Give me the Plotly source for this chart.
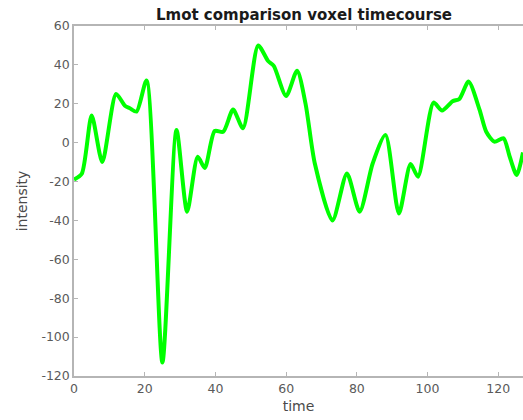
import plotly.graph_objects as go

# Voxel timecourse samples (time in volumes, intensity in signal units)
time_pts = [0, 2.2, 5, 8, 11.9, 14.4, 15.8, 17.7, 20.5, 25, 29, 32, 35, 37,
            39.8, 42.2, 45, 47.8, 52.1, 54.9, 56.5, 60, 63.1, 65.5, 68.1,
            73.1, 77.2, 80.8, 84.5, 88.1, 91.9, 95.2, 97.3, 101.7, 104.1,
            107.1, 109, 111.6, 114.7, 116.6, 118.9, 121.5, 123.2, 125.2, 127]
intensity = [-19, -16, 14, -10, 25, 19, 17.7, 16, 32, -113, 6.5, -35.5, -7.2, -13,
             6, 5.6, 17, 7.4, 50, 42, 39.5, 24, 37, 20, -10.6,
             -40, -15.8, -35.5, -10.6, 4, -36.4, -11, -17.5, 20.6, 16.5,
             21.3, 22.5, 31.4, 17, 5.6, 0.5, 2.2, -7, -16.6, -5]

x_ticks = [0, 20, 40, 60, 80, 100, 120]
y_ticks = [-120, -100, -80, -60, -40, -20, 0, 20, 40, 60]
y_tick_labels = ["-120", "-100", "-80", "-60", "-40", "-20", "0", "20", "40", "60"]

FONT = "DejaVu Sans"

fig = go.Figure(
    go.Scatter(
        x=time_pts, y=intensity, mode="lines",
        line=dict(color="#00ff00", width=4, shape="spline", smoothing=0.7),
        hoverinfo="skip",
    )
)

axis_style = dict(
    showgrid=False, zeroline=False, showline=True, linecolor="#b5b5b5",
    linewidth=1.5, ticks="inside", ticklen=4,
    tickcolor="#b5b5b5", tickfont=dict(family=FONT, size=12.5, color="#5a5a5a"),
)

fig.update_layout(
    width=523, height=420,
    margin=dict(l=74, r=0, t=26, b=44),
    paper_bgcolor="white", plot_bgcolor="white",
    showlegend=False,
    title=dict(text="<b>Lmot comparison voxel timecourse</b>",
               x=304 / 523, xref="container", xanchor="center",
               y=1 - 15 / 420, yref="container", yanchor="middle",
               font=dict(family=FONT, size=15, color="#1a1a1a")),
    xaxis=dict(range=[0, 127], tickvals=x_ticks, mirror="ticks",
               title=dict(text="time", standoff=6,
                          font=dict(family=FONT, size=14, color="#4a4a4a")),
               **axis_style),
    yaxis=dict(range=[-120, 60], tickvals=y_ticks, ticktext=y_tick_labels,
               mirror=False,
               title=dict(text="intensity", standoff=10,
                          font=dict(family=FONT, size=14, color="#4a4a4a")),
               **axis_style),
)

fig.write_html("out.html")
